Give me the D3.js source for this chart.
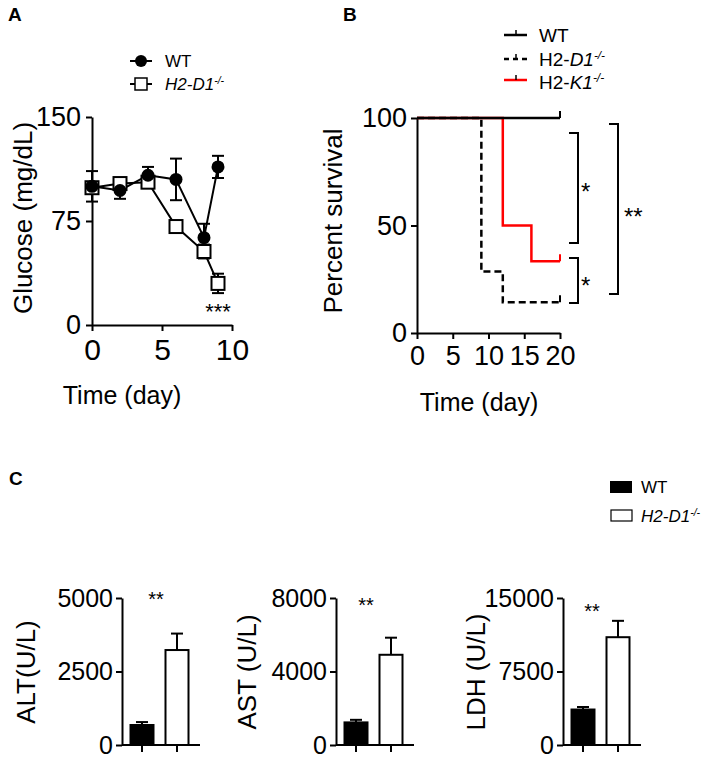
<!DOCTYPE html>
<html>
<head>
<meta charset="utf-8">
<script src="https://cdn.jsdelivr.net/npm/d3@7"></script>
<style>
  body { margin: 0; background: #fff; }
  svg text { font-family: Arial, "Liberation Sans", sans-serif; fill: #000; }
</style>
</head>
<body>
<div id="fig"></div>
<script>
// Panel A: glucose over time
const glucoseDays = [0, 2, 4, 6, 8, 9];
const glucoseWT = [100, 97, 108, 105, 63, 114];
const glucoseWTErr = [11, 6, 6, 15, 10, 8];
const glucoseKO = [99, 102, 103, 71, 53, 30];
const glucoseKOErr = [4, 4, 4, 3, 5, 7];
const glucoseYTicks = [0, 75, 150];
const glucoseXTicks = [0, 5, 10];

// Panel B: survival (step curves)
const survWTTimes = [0, 20];
const survWT = [100, 100];
const survD1Times = [0, 9, 12, 20];
const survD1 = [100, 28.57, 14.29, 14.29];
const survK1Times = [0, 12, 16, 20];
const survK1 = [100, 50, 33.33, 33.33];
const survYTicks = [0, 50, 100];
const survXTicks = [0, 5, 10, 15, 20];

// Panel C: serum enzymes
const enzymeNames = ["ALT(U/L)", "AST (U/L)", "LDH (U/L)"];
const enzymeMax = [5000, 8000, 15000];
const enzymeTicks = [[0, 2500, 5000], [0, 4000, 8000], [0, 7500, 15000]];
const enzymeWT = [680, 1230, 3620];
const enzymeWTErr = [100, 140, 260];
const enzymeKO = [3230, 4910, 11000];
const enzymeKOErr = [560, 930, 1670];
const groups = ["WT", "KO"];

const W = 709, H = 760;
const svg = d3.select("#fig").append("svg").attr("width", W).attr("height", H);
svg.append("rect").attr("width", W).attr("height", H).attr("fill", "#fff");

const fmt = d3.format("d");

function styleAxis(g, fs){
  g.selectAll("path,line").attr("stroke", "#000").attr("stroke-width", 2);
  g.selectAll("text").style("font-size", fs + "px").attr("fill", "#000")
    .style("font-family", "Arial, 'Liberation Sans', sans-serif");
}
function addKoLabel(sel, prefixItalic, fs){
  // "H2-D1-/-" style label with superscript
  if (prefixItalic) {
    sel.append("tspan").style("font-style", "italic").text("H2-D1");
  } else {
    sel.append("tspan").text("H2-");
    sel.append("tspan").style("font-style", "italic").text("D1");
  }
  sel.append("tspan").style("font-style", "italic").style("font-size", (fs*0.62) + "px")
    .attr("dy", -fs*0.38).text("-/-");
}

// ---------------- Panel A ----------------
const xA = d3.scaleLinear().domain([0, 10]).range([92, 232]);
const yA = d3.scaleLinear().domain([0, 150]).range([325, 117]);

svg.append("g").attr("transform", "translate(92,0)")
  .call(d3.axisLeft(yA).tickValues(glucoseYTicks).tickFormat(fmt).tickSize(6).tickSizeOuter(0).tickPadding(5))
  .call(g => styleAxis(g, 27));
svg.append("g").attr("transform", "translate(0,325)")
  .call(d3.axisBottom(xA).tickValues(glucoseXTicks).tickFormat(fmt).tickSize(6).tickSizeOuter(0).tickPadding(8))
  .call(g => styleAxis(g, 30));

const lineA = d3.line().x((d,i) => xA(glucoseDays[i])).y(d => yA(d));
svg.append("path").attr("d", lineA(glucoseWT)).attr("fill", "none").attr("stroke", "#000").attr("stroke-width", 2);
svg.append("path").attr("d", lineA(glucoseKO)).attr("fill", "none").attr("stroke", "#000").attr("stroke-width", 2);

function errBars(vals, errs){
  const g = svg.append("g").attr("stroke", "#000").attr("stroke-width", 2);
  vals.forEach((v, i) => {
    const cx = xA(glucoseDays[i]);
    g.append("line").attr("x1", cx).attr("x2", cx).attr("y1", yA(v - errs[i])).attr("y2", yA(v + errs[i]));
    [v - errs[i], v + errs[i]].forEach(e => {
      g.append("line").attr("x1", cx - 6).attr("x2", cx + 6).attr("y1", yA(e)).attr("y2", yA(e));
    });
  });
}
errBars(glucoseKO, glucoseKOErr);
errBars(glucoseWT, glucoseWTErr);

svg.append("g").selectAll("rect").data(glucoseKO).join("rect")
  .attr("x", (d,i) => xA(glucoseDays[i]) - 6.5).attr("y", d => yA(d) - 6.5)
  .attr("width", 13).attr("height", 13).attr("fill", "#fff").attr("stroke", "#000").attr("stroke-width", 2);
svg.append("g").selectAll("circle").data(glucoseWT).join("circle")
  .attr("cx", (d,i) => xA(glucoseDays[i])).attr("cy", d => yA(d)).attr("r", 6.5).attr("fill", "#000");

svg.append("text").attr("x", xA(9)).attr("y", 319).attr("text-anchor", "middle")
  .style("font-size", "22px").text("***");

svg.append("text").attr("transform", "translate(32,218) rotate(-90)").attr("text-anchor", "middle")
  .style("font-size", "26px").text("Glucose (mg/dL)");
svg.append("text").attr("x", 122).attr("y", 404).attr("text-anchor", "middle")
  .style("font-size", "25px").text("Time (day)");
svg.append("text").attr("x", 8).attr("y", 21).style("font-size", "19px").style("font-weight", "bold").text("A");

// legend A
svg.append("line").attr("x1", 130).attr("x2", 152).attr("y1", 61).attr("y2", 61).attr("stroke", "#000").attr("stroke-width", 2);
svg.append("circle").attr("cx", 141).attr("cy", 61).attr("r", 6).attr("fill", "#000");
svg.append("text").attr("x", 165).attr("y", 67).style("font-size", "17px").text("WT");
svg.append("line").attr("x1", 130).attr("x2", 152).attr("y1", 84).attr("y2", 84).attr("stroke", "#000").attr("stroke-width", 2);
svg.append("rect").attr("x", 135).attr("y", 78).attr("width", 12).attr("height", 12).attr("fill", "#fff").attr("stroke", "#000").attr("stroke-width", 1.5);
addKoLabel(svg.append("text").attr("x", 165).attr("y", 90).style("font-size", "17px"), true, 17);

// ---------------- Panel B ----------------
const xB = d3.scaleLinear().domain([0, 20]).range([417, 560]);
const yB = d3.scaleLinear().domain([0, 100]).range([333, 118]);

svg.append("g").attr("transform", "translate(417,0)")
  .call(d3.axisLeft(yB).tickValues(survYTicks).tickFormat(fmt).tickSize(6).tickSizeOuter(0).tickPadding(4))
  .call(g => styleAxis(g, 27));
svg.append("g").attr("transform", "translate(0,333)")
  .call(d3.axisBottom(xB).tickValues(survXTicks).tickFormat(fmt).tickSize(6).tickSizeOuter(0).tickPadding(7))
  .call(g => styleAxis(g, 27));

const stepLine = d3.line().curve(d3.curveStepAfter);
function survPath(times, vals, color, dash){
  const pts = times.map((t, i) => [xB(t), yB(vals[i])]);
  svg.append("path").attr("d", stepLine(pts)).attr("fill", "none")
    .attr("stroke", color).attr("stroke-width", 2.5).attr("stroke-dasharray", dash);
  const last = pts[pts.length - 1];
  svg.append("line").attr("x1", last[0]).attr("x2", last[0]).attr("y1", last[1]).attr("y2", last[1] - 7)
    .attr("stroke", color).attr("stroke-width", 2);
}
survPath(survD1Times, survD1, "#000", "7,4");
survPath(survK1Times, survK1, "#f00", null);
survPath(survWTTimes, survWT, "#000", null);

// significance brackets
function bracket(x, y1, y2, label, lx, ly){
  svg.append("path").attr("d", `M${x},${y1}H${x+9}V${y2}H${x}`).attr("fill", "none")
    .attr("stroke", "#000").attr("stroke-width", 2);
  svg.append("text").attr("x", lx).attr("y", ly).style("font-size", "24px").text(label);
}
bracket(569, 133, 243, "*", 581, 200);
bracket(569, 258, 303, "*", 581, 294);
bracket(609, 124, 294, "**", 624, 225);

svg.append("text").attr("transform", "translate(342,221) rotate(-90)").attr("text-anchor", "middle")
  .style("font-size", "26px").text("Percent survival");
svg.append("text").attr("x", 479).attr("y", 411).attr("text-anchor", "middle")
  .style("font-size", "25px").text("Time (day)");
svg.append("text").attr("x", 343).attr("y", 21).style("font-size", "19px").style("font-weight", "bold").text("B");

// legend B
const legB = [
  { y: 35, color: "#000", dash: null },
  { y: 59, color: "#000", dash: "5,4" },
  { y: 80, color: "#f00", dash: null }
];
legB.forEach(l => {
  svg.append("line").attr("x1", 504).attr("x2", 527).attr("y1", l.y).attr("y2", l.y)
    .attr("stroke", l.color).attr("stroke-width", 2.5).attr("stroke-dasharray", l.dash);
  svg.append("line").attr("x1", 516).attr("x2", 516).attr("y1", l.y).attr("y2", l.y - 5)
    .attr("stroke", "#000").attr("stroke-width", 1.5);
});
svg.append("text").attr("x", 539).attr("y", 42).style("font-size", "19px").text("WT");
addKoLabel(svg.append("text").attr("x", 539).attr("y", 66).style("font-size", "19px"), false, 19);
const k1 = svg.append("text").attr("x", 539).attr("y", 89).style("font-size", "19px");
k1.append("tspan").text("H2-");
k1.append("tspan").style("font-style", "italic").text("K1");
k1.append("tspan").style("font-style", "italic").style("font-size", "12px").attr("dy", -7).text("-/-");

// ---------------- Panel C ----------------
const axisXs = [122, 336, 563];
const starX = [156, 366, 592];
const starY = [606, 612, 618];
const labelXs = [35, 256, 485];

enzymeNames.forEach((name, i) => {
  const ax = axisXs[i];
  const y = d3.scaleLinear().domain([0, enzymeMax[i]]).range([745, 598]);
  const x = d3.scalePoint().domain(groups).range([ax + 20, ax + 55]);
  const bw = 23;

  svg.append("g").attr("transform", `translate(${ax},0)`)
    .call(d3.axisLeft(y).tickValues(enzymeTicks[i]).tickFormat(fmt).tickSize(6).tickSizeOuter(0).tickPadding(3))
    .call(g => styleAxis(g, 25));
  // x axis with ticks under bars
  svg.append("line").attr("x1", ax).attr("x2", ax + 78).attr("y1", 745).attr("y2", 745)
    .attr("stroke", "#000").attr("stroke-width", 2);
  groups.forEach(gk => {
    svg.append("line").attr("x1", x(gk)).attr("x2", x(gk)).attr("y1", 745).attr("y2", 752)
      .attr("stroke", "#000").attr("stroke-width", 2);
  });

  const means = [enzymeWT[i], enzymeKO[i]];
  const errs = [enzymeWTErr[i], enzymeKOErr[i]];
  groups.forEach((gk, j) => {
    const cx = x(gk);
    svg.append("line").attr("x1", cx).attr("x2", cx).attr("y1", y(means[j])).attr("y2", y(means[j] + errs[j]))
      .attr("stroke", "#000").attr("stroke-width", 2);
    svg.append("line").attr("x1", cx - 6).attr("x2", cx + 6).attr("y1", y(means[j] + errs[j])).attr("y2", y(means[j] + errs[j]))
      .attr("stroke", "#000").attr("stroke-width", 2);
    svg.append("rect").attr("x", cx - bw/2).attr("y", y(means[j])).attr("width", bw).attr("height", 745 - y(means[j]))
      .attr("fill", j === 0 ? "#000" : "#fff").attr("stroke", "#000").attr("stroke-width", 2);
  });

  svg.append("text").attr("x", starX[i]).attr("y", starY[i]).attr("text-anchor", "middle")
    .style("font-size", "20px").text("**");
  svg.append("text").attr("transform", `translate(${labelXs[i]},672) rotate(-90)`).attr("text-anchor", "middle")
    .style("font-size", "26px").text(name);
});

svg.append("text").attr("x", 9).attr("y", 485).style("font-size", "19px").style("font-weight", "bold").text("C");
svg.append("rect").attr("x", 610).attr("y", 481).attr("width", 22).attr("height", 12).attr("fill", "#000");
svg.append("text").attr("x", 641).attr("y", 493).style("font-size", "17px").text("WT");
svg.append("rect").attr("x", 611).attr("y", 510).attr("width", 21).attr("height", 11).attr("fill", "#fff").attr("stroke", "#000").attr("stroke-width", 1.2);
addKoLabel(svg.append("text").attr("x", 641).attr("y", 522).style("font-size", "17px"), true, 17);
</script>
</body>
</html>
